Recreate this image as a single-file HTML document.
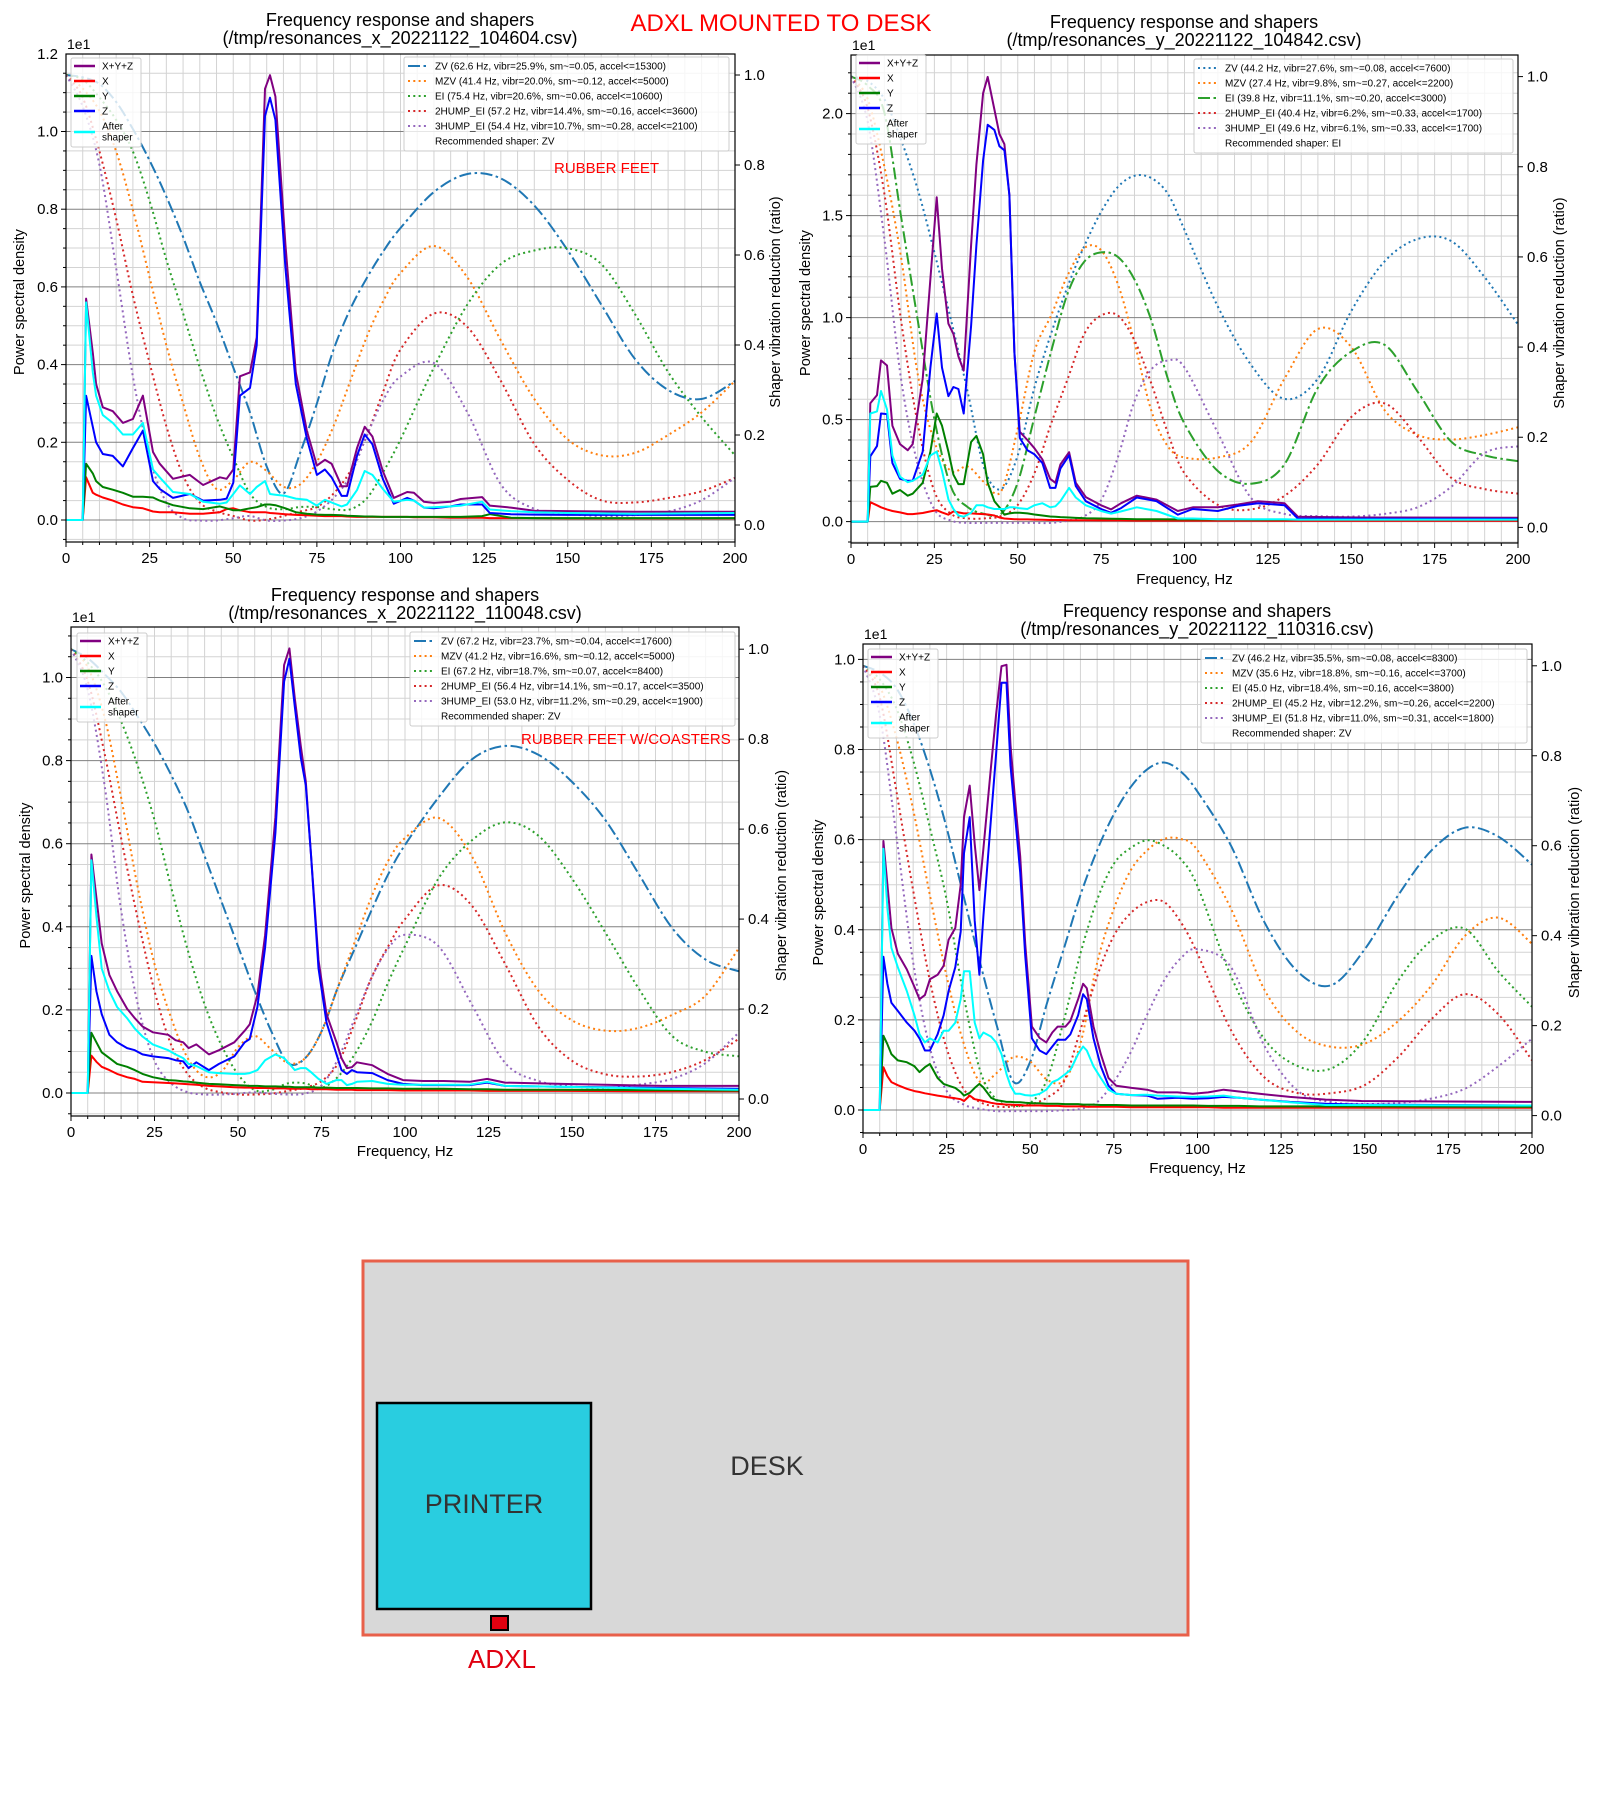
<!DOCTYPE html>
<html><head><meta charset="utf-8">
<style>
html,body{margin:0;padding:0;background:#fff;}
svg{display:block;font-family:"Liberation Sans","DejaVu Sans",sans-serif;}
</style></head>
<body>
<svg id="root" xmlns="http://www.w3.org/2000/svg" width="1600" height="1800" viewBox="0 0 1600 1800">
<rect x="0" y="0" width="1600" height="1800" fill="#fff"/>
<text x="781" y="31" text-anchor="middle" font-size="24" fill="#ff0000">ADXL MOUNTED TO DESK</text>
<g id="charts"></g>
<g>
<rect x="363" y="1261" width="825" height="374" fill="#d8d8d8" stroke="#e8604a" stroke-width="3"/>
<text x="767" y="1475" text-anchor="middle" font-size="27" fill="#333">DESK</text>
<rect x="377" y="1403" width="214" height="206" fill="#29cde0" stroke="#000" stroke-width="2.5"/>
<text x="484" y="1513" text-anchor="middle" font-size="27" fill="#333">PRINTER</text>
<rect x="491" y="1616" width="17" height="14" fill="#e00010" stroke="#000" stroke-width="2"/>
<text x="502" y="1668" text-anchor="middle" font-size="26" fill="#e00010">ADXL</text>
</g>
</svg>
<script>
const G = [0,5,10,15,20,25,30,35,40,45,50,55,60,65,70,75,80,85,90,95,100,110,120,130,140,150,160,170,180,190,200];

const c1_f = [0,5,6,8,9,11,14,17,20,23,26,28,32,37,41,46,48,50,52,55,57,59.5,61,62.6,65.6,68.7,72,75,77.4,79.4,82.4,84,87,89.3,91.6,94.7,98,102,104,107,110,115,118,124.4,126.7,133,140,150,170,200];
const c1_xyz = [0,0,.57,.43,.35,.29,.28,.25,.26,.32,.175,.145,.106,.116,.09,.11,.106,.13,.37,.38,.47,1.11,1.145,1.09,.71,.38,.23,.14,.155,.145,.087,.087,.185,.24,.215,.126,.057,.072,.07,.047,.044,.047,.054,.059,.037,.032,.024,.023,.021,.021];
const c1_x = [0,0,.11,.07,.065,.058,.05,.04,.033,.03,.022,.02,.02,.016,.016,.02,.028,.03,.025,.02,.02,.02,.018,.017,.015,.013,.012,.011,.01,.01,.01,.009,.008,.008,.008,.008,.008,.008,.007,.007,.007,.006,.006,.006,.005,.005,.005,.004,.004,.004];
const c1_y = [0,0,.145,.12,.10,.085,.078,.07,.06,.06,.058,.05,.038,.03,.028,.035,.03,.025,.025,.03,.033,.04,.04,.038,.03,.02,.016,.014,.013,.013,.012,.011,.01,.009,.009,.008,.008,.008,.008,.008,.008,.008,.008,.01,.015,.006,.005,.005,.005,.005];
const c1_z = [0,0,.32,.24,.2,.17,.165,.138,.185,.23,.10,.08,.057,.067,.05,.052,.055,.096,.32,.34,.45,1.04,1.087,1.03,.65,.35,.21,.116,.13,.11,.062,.062,.165,.22,.195,.106,.042,.057,.05,.032,.03,.035,.04,.04,.018,.015,.014,.013,.013,.013];
const c1_after = [0,0,.56,.38,.32,.27,.25,.22,.22,.25,.13,.11,.072,.067,.047,.042,.045,.067,.089,.067,.085,.10,.067,.065,.062,.055,.052,.037,.052,.045,.035,.04,.077,.126,.116,.08,.047,.052,.05,.032,.033,.035,.037,.047,.027,.023,.02,.018,.016,.018];
const c1_zv = [1.0,.995,.98,.94,.88,.81,.73,.64,.54,.45,.35,.25,.13,.07,.16,.27,.39,.48,.55,.61,.66,.74,.78,.77,.71,.61,.49,.37,.30,.28,.32];
const c1_mzv = [1.0,.97,.92,.83,.70,.55,.40,.27,.15,.08,.10,.14,.12,.085,.09,.14,.22,.32,.42,.50,.56,.62,.55,.41,.28,.19,.155,.16,.20,.25,.32];
const c1_ei = [1.0,.99,.95,.90,.83,.72,.59,.47,.35,.24,.15,.07,.04,.035,.04,.04,.035,.035,.06,.12,.19,.35,.49,.58,.61,.615,.58,.47,.34,.24,.155];
const c1_2hump = [1.0,.95,.83,.68,.51,.36,.22,.11,.05,.03,.02,.01,.012,.02,.03,.04,.07,.12,.20,.30,.39,.47,.44,.32,.18,.10,.055,.05,.06,.075,.105];
const c1_3hump = [1.0,.93,.80,.57,.33,.15,.05,.015,.01,.01,.015,.02,.01,.01,.015,.03,.06,.11,.20,.28,.33,.36,.25,.09,.036,.025,.02,.022,.03,.055,.105];
const c1_labels = ["ZV (62.6 Hz, vibr=25.9%, sm~=0.05, accel<=15300)","MZV (41.4 Hz, vibr=20.0%, sm~=0.12, accel<=5000)","EI (75.4 Hz, vibr=20.6%, sm~=0.06, accel<=10600)","2HUMP_EI (57.2 Hz, vibr=14.4%, sm~=0.16, accel<=3600)","3HUMP_EI (54.4 Hz, vibr=10.7%, sm~=0.28, accel<=2100)"];

const c2_f = [0,5,5.8,7.8,9.0,10.8,12.4,14.7,17,18.5,21.5,23.8,25.7,27.3,29.2,30.7,32.2,33.8,36,37.6,39.6,41,43,44.5,46,47.5,49,50.6,52.9,55,57.4,59.7,61.3,62.8,65.4,67.4,70.4,75,78,81,85.7,91.6,98,102.5,110,116,122,130,134,153,200];
const c2_xyz = [0,0,.58,.62,.79,.765,.47,.38,.35,.38,.70,1.19,1.59,1.24,.97,.92,.81,.74,1.355,1.75,2.10,2.18,2.02,1.9,1.85,1.6,.83,.44,.40,.36,.305,.21,.19,.28,.34,.19,.12,.08,.06,.09,.127,.108,.052,.07,.07,.084,.1,.09,.024,.02,.019];
const c2_x = [0,0,.095,.08,.07,.06,.052,.045,.037,.037,.042,.05,.056,.045,.034,.05,.045,.04,.04,.038,.037,.035,.03,.02,.015,.013,.012,.011,.011,.01,.009,.008,.008,.008,.007,.007,.007,.006,.006,.006,.005,.005,.005,.005,.005,.005,.005,.004,.004,.004,.004];
const c2_y = [0,0,.17,.174,.2,.19,.137,.155,.127,.137,.19,.343,.53,.47,.343,.23,.184,.184,.39,.42,.33,.19,.10,.07,.034,.04,.043,.043,.04,.035,.03,.025,.024,.022,.02,.018,.016,.015,.014,.013,.012,.012,.011,.011,.011,.011,.01,.01,.01,.01,.01];
const c2_z = [0,0,.32,.37,.53,.527,.287,.21,.2,.2,.343,.755,1.02,.755,.615,.66,.65,.53,.96,1.355,1.77,1.945,1.92,1.84,1.82,1.6,.83,.41,.35,.33,.287,.165,.165,.26,.325,.174,.1,.062,.043,.066,.118,.1,.034,.062,.052,.077,.09,.08,.015,.014,.013];
const c2_after = [0,0,.53,.54,.64,.55,.324,.22,.193,.2,.23,.324,.343,.25,.109,.062,.03,.024,.043,.08,.08,.07,.062,.062,.062,.07,.07,.065,.062,.08,.09,.07,.075,.1,.165,.118,.08,.052,.039,.05,.07,.052,.015,.015,.012,.012,.012,.012,.01,.01,.01];
const c2_zv = [1.0,.99,.95,.86,.75,.61,.46,.30,.13,.085,.16,.31,.43,.535,.625,.70,.755,.78,.775,.74,.66,.49,.36,.285,.33,.48,.59,.64,.635,.555,.45];
const c2_mzv = [1.0,.95,.80,.60,.34,.19,.125,.135,.10,.08,.22,.39,.47,.56,.62,.615,.54,.41,.26,.18,.155,.155,.19,.33,.44,.40,.26,.205,.195,.205,.222];
const c2_ei = [1.0,.98,.92,.69,.46,.24,.09,.045,.03,.03,.10,.245,.39,.52,.59,.61,.60,.55,.46,.33,.23,.125,.097,.14,.31,.39,.405,.30,.19,.16,.147];
const c2_2hump = [1.0,.93,.74,.46,.23,.08,.03,.02,.02,.025,.05,.12,.23,.33,.43,.47,.47,.415,.32,.21,.12,.05,.04,.07,.14,.245,.275,.20,.11,.085,.075];
const c2_3hump = [1.0,.90,.64,.33,.14,.04,.015,.01,.01,.01,.01,.01,.01,.015,.025,.06,.155,.28,.35,.37,.355,.21,.065,.03,.025,.024,.03,.045,.09,.165,.18];
const c2_labels = ["ZV (44.2 Hz, vibr=27.6%, sm~=0.08, accel<=7600)","MZV (27.4 Hz, vibr=9.8%, sm~=0.27, accel<=2200)","EI (39.8 Hz, vibr=11.1%, sm~=0.20, accel<=3000)","2HUMP_EI (40.4 Hz, vibr=6.2%, sm~=0.33, accel<=1700)","3HUMP_EI (49.6 Hz, vibr=6.1%, sm~=0.33, accel<=1700)"];

const c3_f = [0,5,6.1,7.6,9.2,11.5,13.8,16.8,19.1,21.4,24.5,29.1,31.3,33.6,35.2,37.5,41.3,44.3,48.9,52,53.5,55.8,58.1,61.2,63.8,65.4,67,68.8,70.3,71.9,74.1,76.5,79.5,81,82.6,84.1,85.6,90.2,94.8,99.4,105.5,111.6,119.3,124.6,129.9,146.8,177.4,200];
const c3_xyz = [0,0,.574,.47,.36,.284,.245,.203,.18,.16,.146,.14,.127,.122,.108,.117,.093,.103,.122,.15,.165,.236,.38,.664,1.03,1.07,.95,.835,.75,.57,.32,.19,.122,.084,.06,.062,.074,.067,.046,.031,.029,.029,.027,.034,.025,.022,.017,.017];
const c3_x = [0,0,.09,.075,.063,.055,.046,.038,.034,.027,.026,.024,.023,.022,.021,.02,.017,.016,.014,.013,.013,.012,.012,.011,.011,.01,.01,.01,.01,.009,.009,.009,.008,.008,.008,.008,.007,.007,.007,.006,.006,.006,.006,.005,.005,.005,.004,.004];
const c3_y = [0,0,.145,.122,.098,.084,.07,.063,.055,.046,.038,.031,.03,.028,.027,.025,.022,.021,.019,.018,.017,.017,.016,.016,.015,.015,.014,.014,.014,.014,.013,.013,.012,.012,.012,.012,.012,.011,.011,.01,.01,.01,.009,.009,.008,.008,.007,.006];
const c3_z = [0,0,.33,.245,.19,.14,.122,.108,.103,.093,.088,.084,.079,.076,.06,.074,.055,.07,.088,.122,.13,.207,.35,.626,.99,1.045,.93,.807,.74,.57,.30,.17,.093,.055,.046,.055,.05,.048,.031,.022,.019,.019,.019,.025,.017,.015,.012,.01];
const c3_after = [0,0,.56,.426,.30,.245,.207,.18,.155,.136,.117,.103,.093,.084,.07,.065,.05,.048,.046,.046,.048,.055,.079,.093,.084,.07,.055,.06,.06,.05,.034,.022,.031,.031,.019,.022,.027,.029,.022,.02,.02,.02,.02,.027,.017,.015,.01,.008];
const c3_zv = [1.0,.98,.945,.905,.85,.79,.72,.64,.54,.44,.34,.24,.15,.08,.09,.15,.25,.335,.42,.50,.565,.67,.755,.785,.765,.705,.62,.50,.38,.31,.284];
const c3_mzv = [1.0,.96,.85,.67,.47,.30,.18,.09,.05,.06,.115,.14,.11,.08,.09,.15,.25,.35,.45,.53,.58,.625,.54,.37,.24,.175,.152,.158,.187,.23,.336];
const c3_ei = [1.0,.97,.92,.84,.74,.62,.47,.33,.21,.12,.055,.02,.02,.035,.035,.025,.05,.10,.17,.26,.34,.49,.575,.615,.585,.49,.37,.245,.14,.105,.095];
const c3_2hump = [1.0,.93,.77,.58,.40,.24,.12,.055,.025,.015,.01,.01,.012,.018,.025,.04,.08,.17,.27,.34,.40,.475,.43,.30,.16,.085,.055,.05,.06,.087,.134];
const c3_3hump = [1.0,.91,.70,.42,.21,.085,.035,.015,.01,.01,.012,.015,.012,.01,.012,.03,.09,.18,.27,.335,.365,.34,.21,.08,.04,.028,.025,.032,.045,.08,.148];
const c3_labels = ["ZV (67.2 Hz, vibr=23.7%, sm~=0.04, accel<=17600)","MZV (41.2 Hz, vibr=16.6%, sm~=0.12, accel<=5000)","EI (67.2 Hz, vibr=18.7%, sm~=0.07, accel<=8400)","2HUMP_EI (56.4 Hz, vibr=14.1%, sm~=0.17, accel<=3500)","3HUMP_EI (53.0 Hz, vibr=11.2%, sm~=0.29, accel<=1900)"];

const c4_f = [0,5,6.1,7.3,8.5,10.4,13.1,15.4,16.9,18.5,20,22.3,24.1,25.6,27.6,29.2,30.2,31.9,33.4,34.8,36,38.3,39.8,41.4,42.9,44.1,45.5,47,48.5,50.5,52.8,54.8,56.6,58.2,60.5,62,64.3,65.8,66.9,68.9,71.1,73.4,75.7,80.3,84.9,88,94,98.6,103.2,107.8,112.4,118.5,127.6,138.3,149,200];
const c4_xyz = [0,0,.597,.50,.404,.347,.312,.273,.246,.255,.29,.30,.32,.378,.404,.50,.65,.72,.59,.488,.58,.764,.878,.985,.988,.81,.685,.563,.37,.185,.16,.15,.172,.185,.185,.198,.246,.28,.27,.185,.124,.071,.054,.049,.045,.039,.039,.036,.039,.045,.041,.036,.029,.023,.02,.018];
const c4_x = [0,0,.095,.075,.062,.055,.047,.042,.04,.037,.035,.032,.03,.028,.026,.024,.02,.032,.024,.022,.02,.016,.014,.013,.012,.012,.011,.011,.01,.01,.01,.009,.009,.009,.008,.008,.008,.008,.007,.007,.007,.007,.007,.006,.006,.006,.006,.006,.006,.005,.005,.005,.005,.005,.005,.005];
const c4_y = [0,0,.165,.146,.124,.11,.106,.097,.084,.095,.102,.071,.058,.054,.049,.04,.032,.038,.049,.058,.05,.027,.022,.02,.018,.018,.017,.017,.016,.015,.015,.014,.014,.014,.013,.013,.013,.012,.012,.012,.011,.011,.011,.01,.01,.01,.01,.01,.009,.009,.009,.008,.008,.008,.008,.007];
const c4_z = [0,0,.34,.28,.238,.22,.194,.176,.159,.132,.132,.168,.21,.264,.317,.396,.57,.65,.42,.30,.43,.65,.79,.948,.948,.764,.65,.527,.343,.159,.132,.124,.141,.156,.156,.168,.21,.257,.246,.159,.097,.054,.036,.033,.032,.025,.027,.025,.026,.029,.027,.023,.018,.014,.012,.01];
const c4_after = [0,0,.58,.448,.36,.317,.264,.21,.168,.15,.159,.15,.176,.176,.194,.246,.308,.308,.194,.159,.172,.163,.15,.124,.08,.054,.036,.036,.033,.032,.036,.045,.062,.067,.08,.089,.124,.141,.132,.097,.071,.045,.036,.033,.034,.032,.03,.029,.03,.032,.027,.023,.017,.011,.011,.01];
const c4_zv = [1.0,.985,.95,.875,.77,.64,.49,.34,.20,.075,.12,.25,.37,.49,.59,.67,.73,.77,.785,.765,.72,.60,.43,.32,.29,.37,.49,.59,.64,.62,.558];
const c4_mzv = [1.0,.955,.84,.68,.49,.31,.163,.075,.095,.13,.12,.08,.078,.16,.34,.46,.545,.59,.615,.615,.59,.46,.28,.185,.153,.16,.21,.29,.40,.44,.382];
const c4_ei = [1.0,.97,.905,.79,.64,.48,.27,.10,.035,.022,.028,.08,.21,.36,.48,.56,.595,.612,.60,.57,.51,.31,.17,.11,.105,.17,.30,.39,.415,.32,.242];
const c4_2hump = [1.0,.93,.72,.50,.30,.15,.06,.03,.02,.02,.025,.04,.075,.19,.31,.40,.45,.475,.475,.43,.36,.19,.085,.05,.05,.068,.13,.215,.27,.225,.123];
const c4_3hump = [1.0,.89,.62,.34,.15,.055,.025,.015,.01,.01,.01,.01,.012,.015,.03,.075,.14,.225,.30,.35,.37,.33,.155,.055,.03,.026,.028,.038,.06,.11,.171];
const c4_labels = ["ZV (46.2 Hz, vibr=35.5%, sm~=0.08, accel<=8300)","MZV (35.6 Hz, vibr=18.8%, sm~=0.16, accel<=3700)","EI (45.0 Hz, vibr=18.4%, sm~=0.16, accel<=3800)","2HUMP_EI (45.2 Hz, vibr=12.2%, sm~=0.26, accel<=2200)","3HUMP_EI (51.8 Hz, vibr=11.0%, sm~=0.31, accel<=1800)"];

const yTicks1 = [0,0.2,0.4,0.6,0.8,1.0,1.2];
const yTicks2 = [0,0.5,1.0,1.5,2.0];
const yTicks3 = [0,0.2,0.4,0.6,0.8,1.0];
const rTicks = [0,0.2,0.4,0.6,0.8,1.0];
const xTicks = [0,25,50,75,100,125,150,175,200];

const NS = 'http://www.w3.org/2000/svg';
function mk(tag, attrs, parent){
  const e = document.createElementNS(NS, tag);
  for (const k in attrs) e.setAttribute(k, attrs[k]);
  if (parent) parent.appendChild(e);
  return e;
}
function fmt(v, d){ return v.toFixed(d); }

const PSD_COLORS = ['purple','#ff0000','green','#0000ff','cyan'];
const PSD_NAMES = ['xyz','x','y','z','after-shaper'];
const SH_COLORS = ['#1f77b4','#ff7f0e','#2ca02c','#d62728','#9467bd'];
const SH_NAMES = ['zv','mzv','ei','2hump-ei','3hump-ei'];
const DOT = '2,3.3', DASHDOT = '12,3.5,2.5,3.5';

function drawChart(id, cfg, f, psd, shapers, styles, labels, rec, titleFile, yt, yFmt, minorStep){
  const root = document.getElementById('charts');
  const g = mk('g', {}, root);
  
  
  const X = v => cfg.x0 + (cfg.x1 - cfg.x0) * v / 200;
  const Y = v => cfg.y0 - cfg.k * v;
  const R = v => cfg.r0 - cfg.rk * v;
  const clipId = 'clip' + id;
  const cp = mk('clipPath', {id: clipId}, g);
  mk('rect', {x: cfg.x0, y: cfg.top, width: cfg.x1 - cfg.x0, height: cfg.bottom - cfg.top}, cp);

  const grid = mk('g', {}, g);
  
  
  for (let fx = 5; fx < 200; fx += 5){
    const ln = mk('line', {x1: X(fx), x2: X(fx), y1: cfg.top, y2: cfg.bottom, stroke: '#d3d3d3', 'stroke-width': 1}, grid);
    
    
  }
  const vMin = (cfg.y0 - cfg.bottom) / cfg.k, vMax = (cfg.y0 - cfg.top) / cfg.k;
  for (let i = Math.ceil(vMin / minorStep); i * minorStep <= vMax; i++){
    const v = i * minorStep;
    const major = yt.some(t => Math.abs(t - v) < 1e-6);
    const ln = mk('line', {x1: cfg.x0, x2: cfg.x1, y1: Y(v), y2: Y(v), stroke: major ? '#808080' : '#d3d3d3', 'stroke-width': 1}, grid);
    
    
  }

  const plot = mk('g', {'clip-path': 'url(#' + clipId + ')'}, g);
  
  
  shapers.forEach((arr, si) => {
    const pts = arr.map((v, i) => [X(G[i]), R(v)]);
    let d = 'M' + pts[0][0].toFixed(1) + ',' + pts[0][1].toFixed(1);
    for (let i = 0; i < pts.length - 1; i++){
      const p0 = pts[i - 1] || pts[i], p1 = pts[i], p2 = pts[i + 1], p3 = pts[i + 2] || pts[i + 1];
      const c1x = p1[0] + (p2[0] - p0[0]) / 6, c1y = p1[1] + (p2[1] - p0[1]) / 6;
      const c2x = p2[0] - (p3[0] - p1[0]) / 6, c2y = p2[1] - (p3[1] - p1[1]) / 6;
      d += 'C' + c1x.toFixed(1) + ',' + c1y.toFixed(1) + ' ' + c2x.toFixed(1) + ',' + c2y.toFixed(1) + ' ' + p2[0].toFixed(1) + ',' + p2[1].toFixed(1);
    }
    const p = mk('path', {d: d, fill: 'none', stroke: SH_COLORS[si], 'stroke-width': 2, 'stroke-dasharray': styles[si] === 'dd' ? DASHDOT : DOT}, plot);
    
    
  });
  psd.forEach((arr, pi) => {
    const pts = arr.map((v, i) => X(f[i]).toFixed(1) + ',' + Y(v).toFixed(1)).join(' ');
    const pl = mk('polyline', {points: pts, fill: 'none', stroke: PSD_COLORS[pi], 'stroke-width': 2, 'stroke-linejoin': 'round'}, plot);
    
    
  });

  const fr = mk('rect', {x: cfg.x0, y: cfg.top, width: cfg.x1 - cfg.x0, height: cfg.bottom - cfg.top, fill: 'none', stroke: '#000', 'stroke-width': 1.2}, g);
  
  

  for (let fx = 0; fx <= 200; fx += 5){
    const major = fx % 25 === 0;
    const t = mk('line', {x1: X(fx), x2: X(fx), y1: cfg.bottom, y2: cfg.bottom + (major ? 5 : 3), stroke: '#000', 'stroke-width': 1}, g);
    
    
  }
  xTicks.forEach(v => {
    const t = mk('text', {x: X(v), y: cfg.bottom + 21, 'text-anchor': 'middle', 'font-size': 15, fill: '#000'}, g);
    
    
    t.textContent = v;
  });
  for (let i = Math.ceil(vMin / minorStep); i * minorStep <= vMax; i++){
    const v = i * minorStep;
    const major = yt.some(t => Math.abs(t - v) < 1e-6);
    const t = mk('line', {x1: cfg.x0 - (major ? 5 : 3), x2: cfg.x0, y1: Y(v), y2: Y(v), stroke: '#000', 'stroke-width': 1}, g);
    
    
  }
  yt.forEach(v => {
    const t = mk('text', {x: cfg.x0 - 8, y: Y(v) + 5, 'text-anchor': 'end', 'font-size': 15, fill: '#000'}, g);
    
    
    t.textContent = fmt(v, 1);
  });
  rTicks.forEach(v => {
    const t = mk('line', {x1: cfg.x1, x2: cfg.x1 + 5, y1: R(v), y2: R(v), stroke: '#000', 'stroke-width': 1}, g);
    
    
    const tl = mk('text', {x: cfg.x1 + 9, y: R(v) + 5, 'font-size': 15, fill: '#000'}, g);
    
    
    tl.textContent = fmt(v, 1);
  });
  const t1 = mk('text', {x: cfg.tx, y: cfg.ty, 'text-anchor': 'middle', 'font-size': 18, fill: '#000'}, g);
  
  
  t1.textContent = 'Frequency response and shapers';
  const t2 = mk('text', {x: cfg.tx, y: cfg.ty + 18, 'text-anchor': 'middle', 'font-size': 18, fill: '#000'}, g);
  
  
  t2.textContent = titleFile;
  const e1 = mk('text', {x: cfg.x0 + 1, y: cfg.top - 5, 'font-size': 14, fill: '#000'}, g);
  
  
  e1.textContent = '1e1';
  if (cfg.xl){
    const xl = mk('text', {x: (cfg.x0 + cfg.x1) / 2, y: cfg.xl, 'text-anchor': 'middle', 'font-size': 15, fill: '#000'}, g);
    
    
    xl.textContent = 'Frequency, Hz';
  }
  const cy = (cfg.top + cfg.bottom) / 2 + 4;
  const yl = mk('text', {x: 0, y: 0, 'text-anchor': 'middle', 'font-size': 14.5, fill: '#000', transform: 'translate(' + cfg.ylx + ',' + cy + ') rotate(-90)'}, g);
  
  
  yl.textContent = 'Power spectral density';
  const rl = mk('text', {x: 0, y: 0, 'text-anchor': 'middle', 'font-size': 14.5, fill: '#000', transform: 'translate(' + cfg.rlx + ',' + cy + ') rotate(-90)'}, g);
  
  
  rl.textContent = 'Shaper vibration reduction (ratio)';

  const lg = mk('g', {}, g);
  
  
  const lb = mk('rect', {x: cfg.lx, y: cfg.ly, width: 70, height: 89, rx: 2, fill: '#fff', 'fill-opacity': 0.8, stroke: '#ccc', 'stroke-width': 1}, lg);
  
  
  const names = ['X+Y+Z', 'X', 'Y', 'Z', 'After'];
  names.forEach((n, i) => {
    const ry = cfg.ly + 8 + 15 * i + (i === 4 ? 6 : 0);
    const sl = mk('line', {x1: cfg.lx + 3, x2: cfg.lx + 24, y1: ry, y2: ry, stroke: PSD_COLORS[i], 'stroke-width': 2.5}, lg);
    
    
    const tx = mk('text', {x: cfg.lx + 31, y: cfg.ly + 8 + 15 * i + 3.5, 'font-size': 10, fill: '#000'}, lg);
    
    
    tx.textContent = n;
  });
  const sh = mk('text', {x: cfg.lx + 31, y: cfg.ly + 8 + 15 * 4 + 14.5, 'font-size': 10, fill: '#000'}, lg);
  
  
  sh.textContent = 'shaper';

  const rg = mk('g', {}, g);
  
  
  const rb = mk('rect', {x: cfg.rx, y: cfg.ry, width: cfg.rw, height: 94, rx: 2, fill: '#fff', 'fill-opacity': 0.8, stroke: '#ccc', 'stroke-width': 1}, rg);
  
  
  labels.forEach((n, i) => {
    const ry = cfg.ry + 9 + 15 * i;
    const sl = mk('line', {x1: cfg.rx + 4, x2: cfg.rx + 25, y1: ry, y2: ry, stroke: SH_COLORS[i], 'stroke-width': 2, 'stroke-dasharray': styles[i] === 'dd' ? DASHDOT : DOT}, rg);
    
    
    const tx = mk('text', {x: cfg.rx + 31, y: ry + 3.5, 'font-size': 10, fill: '#000'}, rg);
    
    
    tx.textContent = n;
  });
  const rt = mk('text', {x: cfg.rx + 31, y: cfg.ry + 9 + 75 + 3.5, 'font-size': 10, fill: '#000'}, rg);
  
  
  rt.textContent = 'Recommended shaper: ' + rec;

  if (cfg.note){
    const nt = mk('text', {x: cfg.nx, y: cfg.ny, 'font-size': 15, fill: '#ff0000'}, g);
    
    
    nt.textContent = cfg.note;
  }
}

const S1 = ['dd','dot','dot','dot','dot'];
const S2 = ['dot','dot','dd','dot','dot'];

drawChart(1, {x0:66,x1:735,top:54,bottom:542,y0:520,k:388.5,r0:525,rk:450,tx:400,ty:26,xl:0,ylx:24,rlx:780,lx:71,ly:58,rx:404,ry:57,rw:325,note:'RUBBER FEET',nx:554,ny:173},
  c1_f, [c1_xyz,c1_x,c1_y,c1_z,c1_after], [c1_zv,c1_mzv,c1_ei,c1_2hump,c1_3hump], S1, c1_labels, 'ZV', '(/tmp/resonances_x_20221122_104604.csv)', yTicks1, 1, 0.05);
drawChart(2, {x0:851,x1:1518,top:55,bottom:543,y0:521.6,k:204,r0:527.4,rk:450.8,tx:1184,ty:28,xl:584,ylx:810,rlx:1564,lx:856,ly:55,rx:1194,ry:59,rw:319},
  c2_f, [c2_xyz,c2_x,c2_y,c2_z,c2_after], [c2_zv,c2_mzv,c2_ei,c2_2hump,c2_3hump], S2, c2_labels, 'EI', '(/tmp/resonances_y_20221122_104842.csv)', yTicks2, 1, 0.1);
drawChart(3, {x0:71,x1:739,top:627,bottom:1116,y0:1093,k:415.5,r0:1099,rk:449.8,tx:405,ty:601,xl:1156,ylx:30,rlx:786,lx:77,ly:633,rx:410,ry:632,rw:325,note:'RUBBER FEET W/COASTERS',nx:521,ny:744},
  c3_f, [c3_xyz,c3_x,c3_y,c3_z,c3_after], [c3_zv,c3_mzv,c3_ei,c3_2hump,c3_3hump], S1, c3_labels, 'ZV', '(/tmp/resonances_x_20221122_110048.csv)', yTicks3, 1, 0.05);
drawChart(4, {x0:863,x1:1532,top:644,bottom:1133,y0:1110,k:450.6,r0:1115.6,rk:449.8,tx:1197,ty:617,xl:1173,ylx:823,rlx:1579,lx:868,ly:649,rx:1201,ry:649,rw:326},
  c4_f, [c4_xyz,c4_x,c4_y,c4_z,c4_after], [c4_zv,c4_mzv,c4_ei,c4_2hump,c4_3hump], S1, c4_labels, 'ZV', '(/tmp/resonances_y_20221122_110316.csv)', yTicks3, 1, 0.05);
</script>
</body></html>
